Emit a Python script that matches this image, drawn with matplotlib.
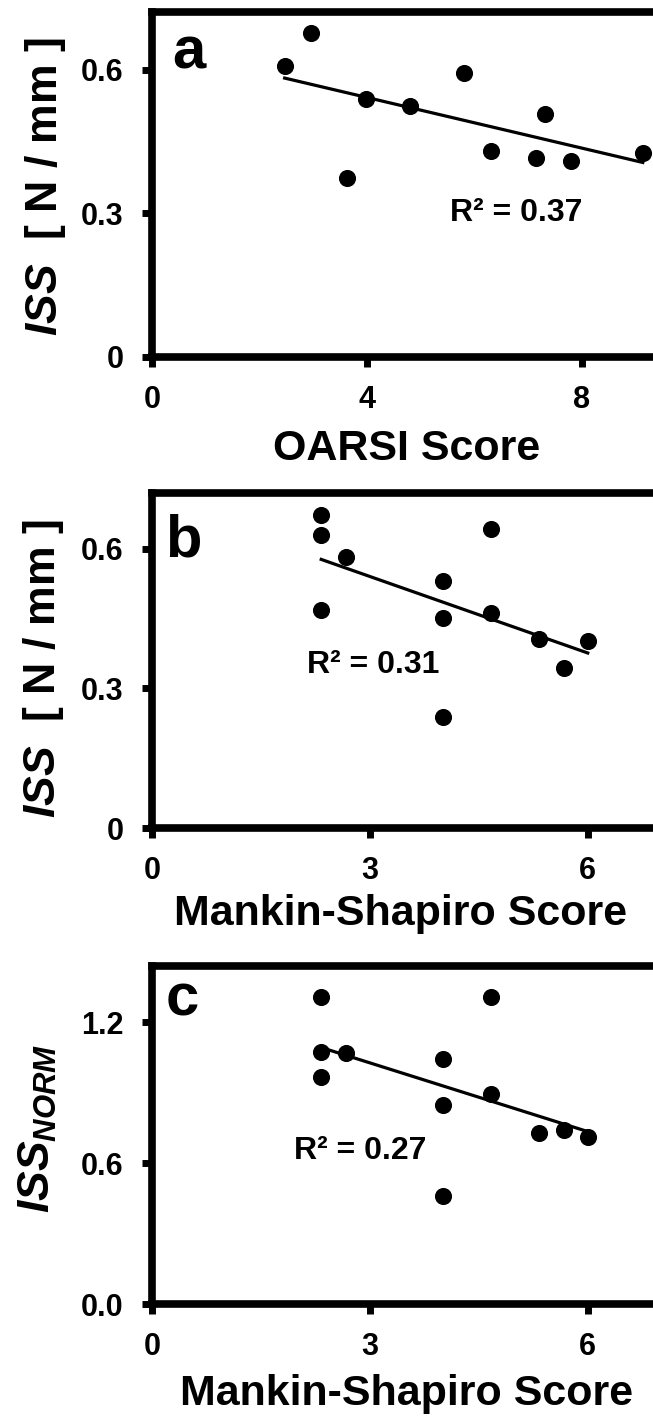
import numpy as np
import matplotlib
matplotlib.use("Agg")
import matplotlib.pyplot as plt

plt.rcParams['font.family'] = ['Liberation Sans', 'DejaVu Sans']
plt.rcParams['font.weight'] = 'bold'
plt.rcParams['mathtext.fontset'] = 'custom'
plt.rcParams['mathtext.rm'] = 'Liberation Sans:bold'
plt.rcParams['mathtext.it'] = 'Liberation Sans:italic:bold'
plt.rcParams['mathtext.bf'] = 'Liberation Sans:bold'

# (a) OARSI score vs ISS
oarsi = [2.47, 2.97, 3.64, 3.98, 4.81, 5.81, 6.31, 7.16, 7.31, 7.81, 9.14]
iss_a = [0.607, 0.676, 0.373, 0.539, 0.523, 0.593, 0.430, 0.416, 0.508, 0.409, 0.425]

# (b) Mankin-Shapiro score vs ISS
mankin = [2.33, 2.33, 2.67, 2.33, 4.0, 4.0, 4.0, 4.67, 4.67, 5.33, 5.67, 6.0]
iss_b = [0.672, 0.629, 0.582, 0.469, 0.531, 0.452, 0.239, 0.642, 0.462, 0.406, 0.344, 0.401]

# (c) Mankin-Shapiro score vs normalised ISS
iss_norm = [1.309, 1.075, 1.068, 0.969, 1.044, 0.848, 0.460, 1.307, 0.893, 0.730, 0.741, 0.713]

r2_labels = ['R\u00b2 = 0.37', 'R\u00b2 = 0.31', 'R\u00b2 = 0.27']
panel_letters = ['a', 'b', 'c']

W, H = 653, 1416
fig = plt.figure(figsize=(W / 100, H / 100), dpi=100)

# axes boxes in pixels: left, bottom(from top), width, height
boxes = [(152, 357, 537, 345), (152, 828, 581, 335), (152, 1304, 581, 338)]

panels = [
    dict(x=oarsi, y=iss_a, xlim=10, ylim=0.72, xticks=[0, 4, 8],
         yticks=[0, 0.3, 0.6], yticklabels=['0', '0.3', '0.6'],
         xlabel='OARSI Score', ylabel=r'$\mathit{ISS}$  [ N / mm ]',
         letter_xy=(0.37, 0.603), r2_xy=(6.78, 0.30),
         xlab_pos=(0.475, -0.2986), ylab_pos=(-0.199, 0.493)),
    dict(x=mankin, y=iss_b, xlim=8, ylim=0.72, xticks=[0, 3, 6],
         yticks=[0, 0.3, 0.6], yticklabels=['0', '0.3', '0.6'],
         xlabel='Mankin-Shapiro Score', ylabel=r'$\mathit{ISS}$  [ N / mm ]',
         letter_xy=(0.18, 0.583), r2_xy=(3.04, 0.35),
         xlab_pos=(0.4286, -0.29), ylab_pos=(-0.186, 0.475)),
    dict(x=mankin, y=iss_norm, xlim=8, ylim=1.44, xticks=[0, 3, 6],
         yticks=[0, 0.6, 1.2], yticklabels=['0.0', '0.6', '1.2'],
         xlabel='Mankin-Shapiro Score', ylabel=r'$\mathit{ISS}_{\mathit{NORM}}$',
         letter_xy=(0.19, 1.23), r2_xy=(2.87, 0.652),
         xlab_pos=(0.439, -0.299), ylab_pos=(-0.196, 0.52)),
]

for i, p in enumerate(panels):
    left, bottom, w, h = boxes[i]
    ax = fig.add_axes([left / W, 1 - bottom / H, w / W, h / H])

    x = np.array(p['x'])
    y = np.array(p['y'])
    ax.plot(x, y, 'o', color='black', markersize=11.3, zorder=3)

    # least squares trend line over the data range
    slope, icept = np.polyfit(x, y, 1)
    xs = np.array([x.min(), x.max()])
    ax.plot(xs, slope * xs + icept, color='black', linewidth=2.3, zorder=2)

    ax.set_xlim(0, p['xlim'])
    ax.set_ylim(0, p['ylim'])
    ax.set_xticks(p['xticks'])
    ax.set_xticklabels([str(t) for t in p['xticks']])
    ax.set_yticks(p['yticks'])
    ax.set_yticklabels(p['yticklabels'])

    for s in ax.spines.values():
        s.set_linewidth(5.5)
    ax.tick_params(axis='both', direction='out', length=7, width=5,
                   labelsize=22, color='black')
    ax.tick_params(axis='x', pad=13)
    ax.tick_params(axis='y', pad=13.5)
    for lab in ax.get_xticklabels() + ax.get_yticklabels():
        lab.set_fontweight('bold')

    ax.set_xlabel(p['xlabel'], fontsize=31, fontweight='bold', va='baseline')
    ax.xaxis.set_label_coords(*p['xlab_pos'])
    ax.set_ylabel(p['ylabel'], fontsize=32, fontweight='bold', va='center')
    ax.yaxis.set_label_coords(*p['ylab_pos'])

    ax.text(p['letter_xy'][0], p['letter_xy'][1], panel_letters[i],
            fontsize=43, fontweight='bold', ha='left', va='baseline')
    ax.text(p['r2_xy'][0], p['r2_xy'][1], r2_labels[i],
            fontsize=23, fontweight='bold', ha='center', va='center')

fig.savefig('out.png', dpi=100)
